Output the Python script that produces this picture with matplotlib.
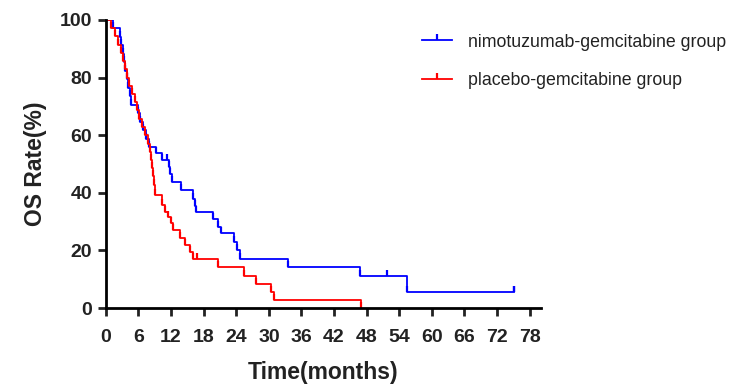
import matplotlib
matplotlib.use("Agg")
import matplotlib.pyplot as plt

plt.rcParams['font.family'] = ['Liberation Sans', 'DejaVu Sans']

# Kaplan-Meier steps (months, % surviving)
blue_t = [0, 1.35, 2.6, 2.85, 3.1, 3.35, 3.6, 3.85, 4.1, 4.4, 4.7, 6.0, 6.3, 6.8, 7.3,
          8.0, 9.3, 10.3, 11.6, 11.8, 12.1, 13.9, 16.1, 16.4, 16.6, 19.8, 20.7, 21.2,
          23.6, 24.1, 24.6, 33.6, 46.7, 55.4, 75.1]
blue_s = [100, 97.1, 94.1, 91.2, 88.2, 85.3, 82.4, 79.4, 76.5, 73.5, 70.6, 67.6, 64.7,
          61.8, 58.8, 55.9, 53.7, 51.4, 49.0, 46.6, 43.9, 41.0, 38.0, 35.5, 33.4, 31.1,
          28.3, 25.9, 23.0, 20.1, 17.2, 14.1, 11.2, 5.7, 5.7]
blue_cens_t = [11.2, 51.8, 75.1]
blue_cens_s = [51.4, 11.2, 5.7]

red_t = [0, 1.0, 1.7, 2.3, 2.7, 3.1, 3.5, 3.9, 4.3, 4.8, 5.3, 5.7, 6.1, 6.7, 7.2, 7.8,
         8.2, 8.4, 8.5, 8.6, 8.8, 9.0, 10.4, 10.9, 11.5, 11.9, 12.3, 13.6, 14.6, 15.5,
         16.1, 20.7, 25.5, 27.7, 30.4, 30.9, 47.0]
red_s = [100, 97.1, 94.3, 91.4, 88.6, 85.7, 82.9, 80.0, 77.1, 74.3, 71.4, 68.6, 65.7,
         62.9, 60.0, 57.1, 54.3, 51.4, 48.6, 45.7, 42.9, 39.2, 35.8, 33.4, 31.7, 29.4,
         27.1, 24.2, 21.9, 19.6, 16.9, 14.1, 11.1, 8.3, 5.6, 2.8, 0]
red_cens_t = [16.7]
red_cens_s = [16.9]

labels = ["nimotuzumab-gemcitabine group", "placebo-gemcitabine group"]
x_ticks = list(range(0, 79, 6))
y_ticks = [0, 20, 40, 60, 80, 100]

# upward tick used as censor mark
tick = [(0, 0), (0, 1)]

fig = plt.figure(figsize=(7.56, 3.92), dpi=100)
ax = fig.add_axes([0.140, 0.214, 0.575, 0.735])

ax.step(blue_t, blue_s, where='post', color='#0000ff', lw=1.3,
        marker=tick, markevery=[], label=labels[0])
ax.step(red_t, red_s, where='post', color='#ff0000', lw=1.3,
        marker=tick, markevery=[], label=labels[1])
ax.plot(blue_cens_t, blue_cens_s, ls='none', marker=tick, ms=8, mec='#0000ff', mew=1.6)
ax.plot(red_cens_t, red_cens_s, ls='none', marker=tick, ms=8, mec='#ff0000', mew=1.6)

ax.set_xlim(0, 80)
ax.set_ylim(0, 100)
ax.set_xticks(x_ticks)
ax.set_yticks(y_ticks)
for side in ['top', 'right']:
    ax.spines[side].set_visible(False)
for side in ['left', 'bottom']:
    ax.spines[side].set_linewidth(2)
ax.tick_params(direction='out', length=6, width=2, labelsize=14, colors='#222222')
ax.tick_params(axis='x', pad=9)
ax.tick_params(axis='y', pad=4)
for lab in ax.get_xticklabels() + ax.get_yticklabels():
    lab.set_fontweight('bold')
ax.set_xlabel("Time(months)", fontsize=16.5, fontweight='bold', labelpad=11, color='#222222')
ax.set_ylabel("OS Rate(%)", fontsize=16.5, fontweight='bold', labelpad=9, color='#222222')

h, l = ax.get_legend_handles_labels()
for hh in h:
    hh.set_markevery(None)
    hh.set_markersize(8)
    hh.set_markeredgewidth(1.6)
leg = fig.legend(h, l, loc='upper left', bbox_to_anchor=(0.537, 0.955), frameon=False,
                 fontsize=12.8, handlelength=1.7, handletextpad=0.9, labelspacing=1.2,
                 numpoints=1)
for txt in leg.get_texts():
    txt.set_color('#222222')

fig.savefig("out.png", dpi=100)
